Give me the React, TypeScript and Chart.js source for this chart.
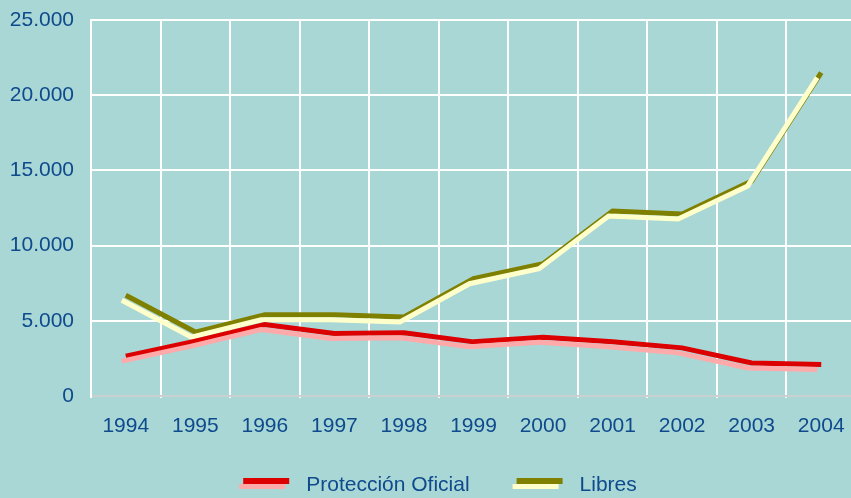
import React, { useEffect, useRef } from "react";
import { Chart, registerables } from "chart.js";

Chart.register(...registerables);

const years = ["1994", "1995", "1996", "1997", "1998", "1999", "2000", "2001", "2002", "2003", "2004"];
const proteccionOficial = [2650, 3650, 4750, 4150, 4200, 3600, 3900, 3600, 3200, 2200, 2100];
const libres = [6700, 4250, 5400, 5400, 5250, 7800, 8800, 12300, 12100, 14300, 21500];
const seriesNames = ["Protección Oficial", "Libres"];

const BG = "#A9D7D6";
const TEXT = "#0E4A8C";
const FONT = "Arial, 'Liberation Sans', sans-serif";
const RED = "#DD0000";
const PINK = "#FFAAAA";
const OLIVE = "#808000";
const CREAM = "#FFFFCC";

const SHADOW_DX = -4;
const SHADOW_DY = 5;

const shadowPlugin = {
  id: "shadowOffset",
  beforeDatasetDraw(chart: any, args: any) {
    const ds = chart.data.datasets[args.index];
    if (ds.isShadow) {
      chart.ctx.save();
      chart.ctx.translate(SHADOW_DX, SHADOW_DY);
    }
  },
  afterDatasetDraw(chart: any, args: any) {
    const ds = chart.data.datasets[args.index];
    if (ds.isShadow) chart.ctx.restore();
  },
};

const legendPlugin = {
  id: "customLegend",
  afterDraw(chart: any) {
    const ctx = chart.ctx;
    const items = [
      { label: seriesNames[0], dark: RED, light: PINK },
      { label: seriesNames[1], dark: OLIVE, light: CREAM },
    ];
    ctx.save();
    ctx.font = `21px ${FONT}`;
    const boxW = 50;
    const gapText = 17;
    const gapItem = 43;
    const widths = items.map((it) => boxW + gapText + ctx.measureText(it.label).width);
    const total = widths.reduce((a, b) => a + b, 0) + gapItem * (items.length - 1);
    let x = 438 - total / 2;
    const y = 485;
    items.forEach((it, i) => {
      ctx.fillStyle = it.dark;
      ctx.fillRect(x + 4, y - 7, 46, 6);
      ctx.fillStyle = it.light;
      ctx.fillRect(x, y - 1, 46, 5);
      ctx.fillStyle = TEXT;
      ctx.textBaseline = "middle";
      ctx.textAlign = "left";
      ctx.fillText(it.label, x + boxW + gapText, y);
      x += widths[i] + gapItem;
    });
    ctx.restore();
  },
};

const bgPlugin = {
  id: "bg",
  beforeDraw(chart: any) {
    const ctx = chart.ctx;
    ctx.save();
    ctx.fillStyle = BG;
    ctx.fillRect(0, 0, chart.width, chart.height);
    ctx.restore();
  },
};

export default function App() {
  const ref = useRef<HTMLCanvasElement>(null);

  useEffect(() => {
    document.body.style.margin = "0";
    document.body.style.background = BG;
    const lineDs = (data: number[], color: string, shadow: boolean, width: number) => ({
      data,
      borderColor: color,
      backgroundColor: color,
      borderWidth: width,
      pointRadius: 0,
      pointHoverRadius: 0,
      tension: 0,
      fill: false,
      borderCapStyle: "butt",
      borderJoinStyle: "miter",
      clip: false,
      isShadow: shadow,
    });
    // Chart.js paints the first dataset on top, so the shadow copies come first.
    const chart = new Chart(ref.current!, {
      type: "line",
      data: {
        labels: years,
        datasets: [
          { label: seriesNames[0] + " ", ...lineDs(proteccionOficial, PINK, true, 5) },
          { label: seriesNames[0], ...lineDs(proteccionOficial, RED, false, 5) },
          { label: seriesNames[1] + " ", ...lineDs(libres, CREAM, true, 5) },
          { label: seriesNames[1], ...lineDs(libres, OLIVE, false, 5) },
        ] as any,
      },
      options: {
        animation: false,
        responsive: false,
        layout: { padding: { top: 20, left: 0, right: 0, bottom: 42 } },
        plugins: { legend: { display: false }, tooltip: { enabled: false } },
        scales: {
          x: {
            offset: true,
            grid: { offset: true, color: "#FFFFFF", lineWidth: 2, drawTicks: true, tickLength: 2 },
            border: { color: "#C8D0D0", width: 2 },
            ticks: { color: TEXT, font: { size: 21, family: FONT }, padding: 16, maxRotation: 0 },
            afterFit: (s: any) => {
              s.height = 60;
              s.paddingLeft = 0;
              s.paddingRight = 0;
            },
          },
          y: {
            min: 0,
            max: 25000,
            grid: { color: "#FFFFFF", lineWidth: 2, drawTicks: false },
            border: { color: "#FFFFFF", width: 2 },
            ticks: {
              stepSize: 5000,
              color: TEXT,
              font: { size: 21, family: FONT },
              padding: 17,
              callback: (v: any) => (v === 0 ? "0" : Number(v).toLocaleString("de-DE")),
            },
            afterFit: (s: any) => {
              s.width = 91;
              s.paddingTop = 0;
              s.paddingBottom = 0;
            },
          },
        },
      },
      plugins: [bgPlugin, shadowPlugin, legendPlugin],
    });
    return () => chart.destroy();
  }, []);

  return (
    <div style={{ width: 851, height: 498, overflow: "hidden", background: BG }}>
      <canvas ref={ref} width={856} height={498} style={{ display: "block" }} />
    </div>
  );
}
